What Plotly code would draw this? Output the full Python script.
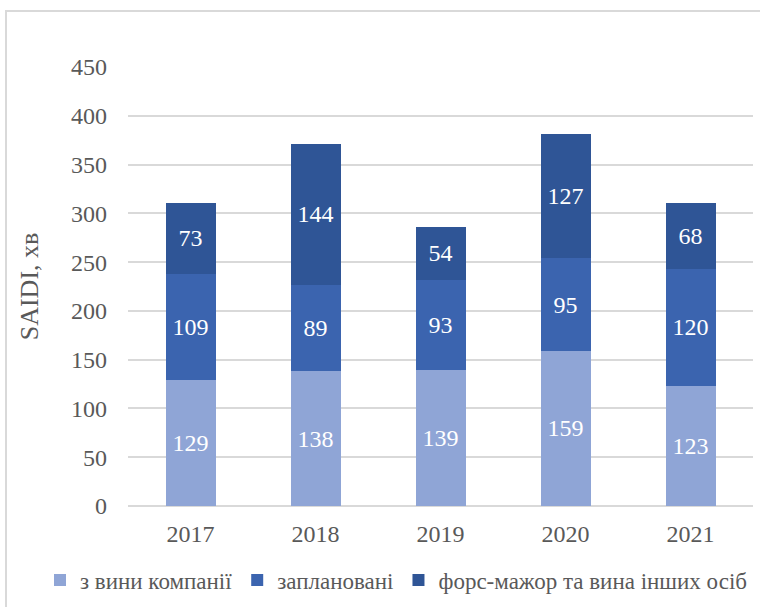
import plotly.graph_objects as go

years = ["2017", "2018", "2019", "2020", "2021"]
company = [129, 138, 139, 159, 123]
planned = [109, 89, 93, 95, 120]
force = [73, 144, 54, 127, 68]
names = ["з вини компанії", "заплановані", "форс-мажор та вина інших осіб"]
colors = ["#8FA5D6", "#3B64AF", "#2F5596"]

FONT = "Liberation Serif, Times New Roman, serif"

fig = go.Figure()
for vals, name, col in zip([company, planned, force], names, colors):
    fig.add_trace(go.Bar(
        x=years, y=vals, name=name, marker=dict(color=col, line=dict(width=0)),
        text=[str(v) for v in vals], textposition="inside", insidetextanchor="middle",
        textangle=0, constraintext="none",
        textfont=dict(color="white", size=24, family=FONT),
    ))

W, H = 760, 607
ml, mr, mt, mb = 128, 7, 67, 101
pw, ph = W - ml - mr, H - mt - mb

fig.update_layout(
    width=W, height=H, barmode="stack", bargap=0.6,
    margin=dict(l=ml, r=mr, t=mt, b=mb, autoexpand=False),
    paper_bgcolor="white", plot_bgcolor="white",
    font=dict(family=FONT, color="#595959", size=24),
    showlegend=True,
    legend=dict(orientation="h",
                x=(40 - ml) / pw, xanchor="left", y=-(580 - (H - mb)) / ph, yanchor="middle",
                font=dict(size=23, color="#595959", family=FONT), traceorder="normal",
                itemwidth=30),
    yaxis=dict(range=[0, 450], dtick=50, showgrid=True, gridcolor="#D9D9D9", gridwidth=1.5,
               zeroline=True, zerolinecolor="#D9D9D9", zerolinewidth=1.5,
               showline=False, ticks="", ticklabelstandoff=20, automargin=False,
               tickfont=dict(size=24, color="#595959"),
               title=dict(text="SAIDI, хв", font=dict(size=26, color="#595959"), standoff=24)),
    xaxis=dict(showline=False, ticks="", ticklabelstandoff=11, automargin=False,
               tickfont=dict(size=24, color="#595959")),
    shapes=[dict(type="rect", xref="paper", yref="paper",
                 x0=(6 - ml) / pw, x1=(W + 20 - ml) / pw,
                 y0=-(H + 20 - (H - mb)) / ph, y1=1 + (mt - 11) / ph,
                 line=dict(color="#D9D9D9", width=2), fillcolor="rgba(0,0,0,0)", layer="below")],
)

fig.write_html("out.html", config={"displayModeBar": False},
               post_script="document.body.style.margin='0px';document.body.style.overflow='hidden';")
